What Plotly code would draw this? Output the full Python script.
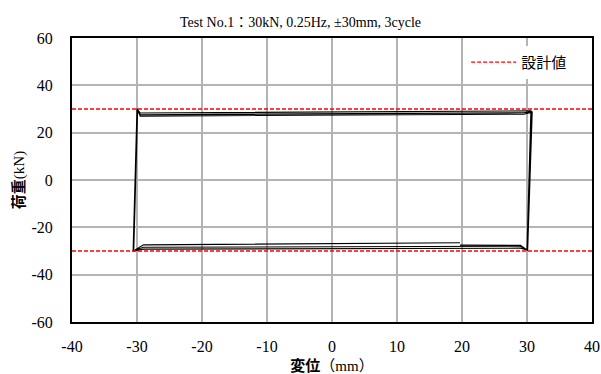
import plotly.graph_objects as go

# hysteresis path (displacement mm, load kN)
disp = [19.7, -29.0, -30.3, -30.5, -30.2, -29.9, -29.5, 29.5, 30.6, 30.3, 30.0, 29.0,
        -29.0, -30.4, -30.6, -30.3, -30.0, -29.5, 29.5, 30.7, 30.4, 30.1, 29.0,
        -29.0, -30.4, -30.6, -30.3, -30.0, -29.5, 29.5, 30.8, 30.5, 30.1, 29.0, 19.7]
load = [-26.5, -27.4, -29.6, -29.8, 0.0, 29.8, 28.3, 29.0, 29.2, 0.0, -29.5, -28.0,
        -28.4, -29.8, -29.9, 0.0, 30.0, 27.6, 28.4, 28.9, 0.0, -29.6, -28.8,
        -29.2, -30.0, -30.0, 0.0, 30.2, 27.0, 27.8, 28.6, 0.0, -29.8, -27.6, -27.5]

design_x = [-40, 40]
design_upper = [30, 30]
design_lower = [-30, -30]

x_ticks = [-40, -30, -20, -10, 0, 10, 20, 30, 40]
x_labels = ["-40", "-30", "-20", "-10", "0", "10", "20", "30", "40"]
y_ticks = [-60, -40, -20, 0, 20, 40, 60]
y_labels = ["-60", "-40", "-20", "0", "20", "40", "60"]

FONT = "Liberation Serif, Noto Sans CJK JP, serif"
TICKFONT = dict(family="Liberation Serif", size=16, color="black")

fig = go.Figure()
fig.add_trace(go.Scatter(x=disp, y=load, mode="lines",
                         line=dict(color="black", width=1.1), showlegend=False))
fig.add_trace(go.Scatter(x=design_x, y=design_upper, mode="lines", name="設計値",
                         line=dict(color="#ff0000", width=1.3, dash="4px,2px")))
fig.add_trace(go.Scatter(x=design_x, y=design_lower, mode="lines", name="設計値",
                         line=dict(color="#ff0000", width=1.3, dash="4px,2px"),
                         showlegend=False))

fig.update_layout(
    width=601, height=374,
    margin=dict(l=72, r=9, t=38, b=52, autoexpand=False),
    paper_bgcolor="white", plot_bgcolor="white",
    font=dict(family=FONT, size=16, color="black"),
    title=dict(text="Test No.1：30kN, 0.25Hz, ±30mm, 3cycle", x=0.5, xanchor="center",
               y=0.94, yanchor="middle", font=dict(size=14, family=FONT)),
    legend=dict(x=0.758, y=0.972, xanchor="left", yanchor="top",
                bgcolor="white", borderwidth=0, itemwidth=45,
                font=dict(family="Noto Sans CJK JP", size=15)),
    xaxis=dict(range=[-40, 40], tickvals=x_ticks, ticktext=x_labels, tickfont=TICKFONT,
               showgrid=True, gridcolor="#b4b4b4", gridwidth=1.5, zeroline=False,
               showline=True, linecolor="black", linewidth=2, mirror=True, ticks="",
               ticklabelstandoff=9, automargin=False,
               title=dict(text="<b>変位</b>（mm）", standoff=8,
                          font=dict(size=15, family=FONT))),
    yaxis=dict(range=[-60, 60], tickvals=y_ticks, ticktext=y_labels, tickfont=TICKFONT,
               showgrid=True, gridcolor="#b4b4b4", gridwidth=1.5, zeroline=False,
               showline=True, linecolor="black", linewidth=2, mirror=True, ticks="",
               ticklabelstandoff=14, automargin=False,
               title=dict(text="<b>荷重</b>(kN)", standoff=3,
                          font=dict(size=15, family=FONT))),
)

fig.write_html("out.html")
